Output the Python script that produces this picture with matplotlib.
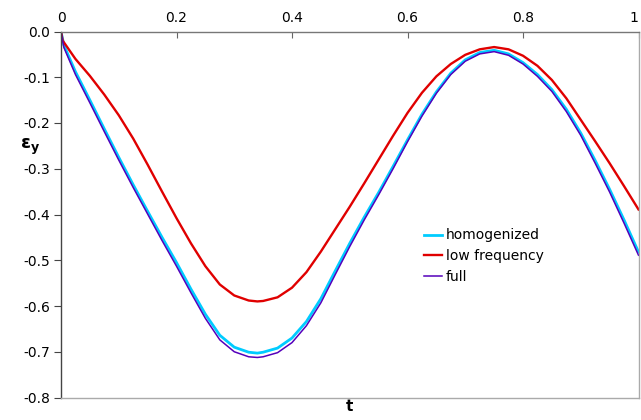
import numpy as np
import matplotlib
matplotlib.use('Agg')
import matplotlib.pyplot as plt

# values
t_hom = [0.0, 0.005, 0.025, 0.05, 0.075, 0.1, 0.125, 0.15, 0.175, 0.2, 0.225, 0.25, 0.275, 0.3, 0.325, 0.34,
         0.35, 0.375, 0.4, 0.425, 0.45, 0.475, 0.5, 0.525, 0.55, 0.575, 0.6, 0.625, 0.65, 0.675, 0.7,
         0.725, 0.75, 0.775, 0.8, 0.825, 0.85, 0.875, 0.9, 0.925, 0.95, 0.975, 1.0]
homogenized = [0.0, -0.030, -0.088, -0.150, -0.213, -0.275, -0.335, -0.393, -0.450, -0.505, -0.563, -0.618,
               -0.664, -0.690, -0.701, -0.703, -0.701, -0.692, -0.670, -0.634, -0.584, -0.523, -0.463,
               -0.406, -0.352, -0.295, -0.237, -0.181, -0.132, -0.091, -0.062, -0.046, -0.041, -0.049,
               -0.068, -0.094, -0.127, -0.170, -0.222, -0.282, -0.345, -0.412, -0.482]
full = [0.0, -0.035, -0.094, -0.156, -0.219, -0.281, -0.341, -0.399, -0.457, -0.513, -0.571, -0.627,
        -0.674, -0.700, -0.711, -0.7125, -0.711, -0.702, -0.680, -0.643, -0.593, -0.531, -0.470,
        -0.412, -0.357, -0.300, -0.241, -0.185, -0.135, -0.094, -0.065, -0.049, -0.044, -0.052,
        -0.071, -0.098, -0.131, -0.175, -0.227, -0.288, -0.351, -0.419, -0.489]
t_low = [0.0, 0.003, 0.025, 0.05, 0.075, 0.1, 0.125, 0.15, 0.175, 0.2, 0.225, 0.25, 0.275, 0.3, 0.325, 0.34,
         0.35, 0.375, 0.4, 0.425, 0.45, 0.475, 0.5, 0.525, 0.55, 0.575, 0.6, 0.625, 0.65, 0.675, 0.7,
         0.725, 0.75, 0.775, 0.8, 0.825, 0.85, 0.875, 0.9, 0.925, 0.95, 0.975, 1.0]
low_freq = [0.0, -0.020, -0.060, -0.097, -0.138, -0.183, -0.234, -0.291, -0.350, -0.408, -0.463, -0.513,
            -0.553, -0.577, -0.588, -0.590, -0.589, -0.581, -0.560, -0.526, -0.481, -0.432, -0.383,
            -0.332, -0.280, -0.228, -0.178, -0.134, -0.098, -0.071, -0.051, -0.039, -0.034, -0.039,
            -0.053, -0.075, -0.106, -0.146, -0.193, -0.240, -0.288, -0.338, -0.389]

xticks = [0, 0.2, 0.4, 0.6, 0.8, 1]
xticklabels = ['0', '0.2', '0.4', '0.6', '0.8', '1']
yticks = [0.0, -0.1, -0.2, -0.3, -0.4, -0.5, -0.6, -0.7, -0.8]
yticklabels = ['0.0', '-0.1', '-0.2', '-0.3', '-0.4', '-0.5', '-0.6', '-0.7', '-0.8']

plt.rcParams['font.family'] = ['DejaVu Sans']

fig = plt.figure(figsize=(6.41, 4.20), dpi=100)
ax = fig.add_axes([61/641, 1-397.5/420, 577.5/641, 366/420])

ax.plot(t_hom, homogenized, color='#00CCFF', lw=2.0, label='homogenized')
ax.plot(t_low, low_freq, color='#E00000', lw=1.7, label='low frequency')
ax.plot(t_hom, full, color='#5500BB', lw=1.1, label='full')

ax.set_xlim(0, 1)
ax.set_ylim(-0.8, 0.0)

ax.xaxis.tick_top()
ax.set_xticks(xticks)
ax.set_xticklabels(xticklabels, fontsize=10)
ax.get_xticklabels()[-1].set_ha('right')   # keep "1" inside the figure
ax.set_yticks(yticks)
ax.set_yticklabels(yticklabels, fontsize=10)
ax.tick_params(axis='x', direction='in', length=4, color='#666666', pad=5)
ax.tick_params(axis='y', direction='out', length=5, color='#444444', pad=3)

ax.spines['left'].set_color('#444444')
ax.spines['top'].set_color('#777777')
ax.spines['right'].set_color('#aaaaaa')
ax.spines['bottom'].set_color('#aaaaaa')
for s in ax.spines.values():
    s.set_linewidth(1.0)

ax.set_xlabel('t', fontsize=11, fontweight='bold', labelpad=1)
ax.xaxis.set_label_position('bottom')
ax.set_ylabel('ε$_\\mathbf{y}$', fontsize=13, fontweight='bold', rotation=0, va='center', ha='center')
ax.yaxis.set_label_coords(-0.054, 0.684)

leg = ax.legend(loc='upper left', bbox_to_anchor=(0.628, 0.462), frameon=False, fontsize=10,
                handlelength=1.3, handletextpad=0.3, labelspacing=0.48, borderpad=0, borderaxespad=0)

fig.savefig('out.png', dpi=100)
